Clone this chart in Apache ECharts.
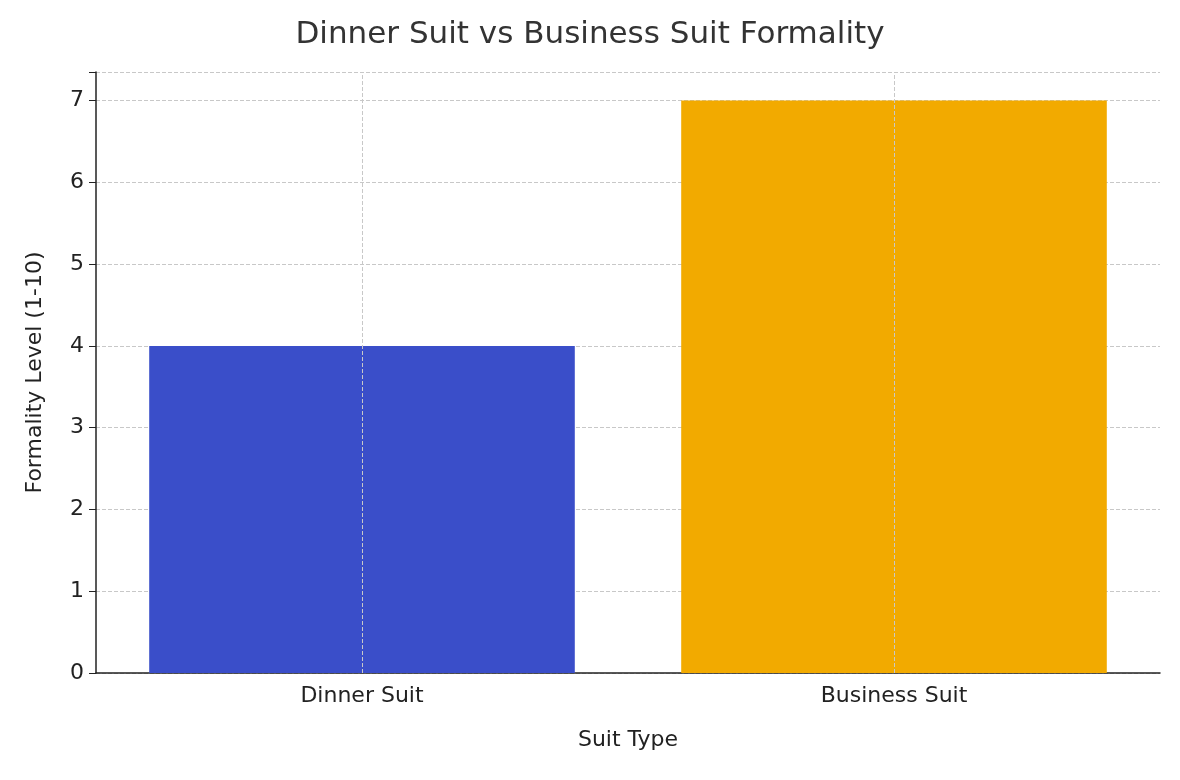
<!DOCTYPE html>
<html><head><meta charset="utf-8">
<script src="https://cdn.jsdelivr.net/npm/echarts@6/dist/echarts.min.js"></script>
<style>html,body{margin:0;padding:0;background:#fff}#c{width:1180px;height:780px}</style>
</head><body><div id="c"></div>
<script>
const categories = ['Dinner Suit', 'Business Suit'];
const values = [4, 7];
const colors = ['#3a4ec9', '#f2aa00'];
const yTicks = [0,1,2,3,4,5,6,7];
const F = 'DejaVu Sans';
const chart = echarts.init(document.getElementById('c'));
chart.setOption({
  animation: false,
  title: {text: 'Dinner Suit vs Business Suit Formality', left: 'center', top: 14,
    textStyle: {fontFamily: F, fontSize: 31, fontWeight: 'normal', color: '#333'}},
  grid: {left: 96, right: 20, top: 72, bottom: 107},
  xAxis: {type: 'category', data: categories, name: 'Suit Type', nameLocation: 'middle', nameGap: 56,
    nameTextStyle: {fontFamily: F, fontSize: 22, color: '#222'},
    axisLine: {lineStyle: {color: '#222', width: 1.5}},
    axisTick: {alignWithLabel: true, length: 7, lineStyle: {color: '#222'}},
    axisLabel: {fontFamily: F, fontSize: 22, color: '#222', margin: 12},
    splitLine: {show: false}},
  yAxis: {type: 'value', min: 0, max: 7.35, interval: 1, name: 'Formality Level (1-10)',
    nameLocation: 'middle', nameGap: 50,
    nameTextStyle: {fontFamily: F, fontSize: 22, color: '#222'},
    axisLine: {show: true, lineStyle: {color: '#222', width: 1.5}},
    axisTick: {show: true, length: 7, lineStyle: {color: '#222'}},
    axisLabel: {fontFamily: F, fontSize: 22, color: '#222', margin: 12,
      formatter: v => yTicks.includes(v) ? String(v) : ''},
    splitLine: {lineStyle: {type: 'dashed', color: '#c8c8c8'}}},
  series: [{type: 'bar', barWidth: '80%',
    data: values.map((v, i) => ({value: v, itemStyle: {color: colors[i]}})),
    markLine: {silent: true, symbol: 'none', label: {show: false},
      lineStyle: {type: 'dashed', color: '#c8c8c8', width: 1},
      data: categories.map(c => ({xAxis: c}))}}]
});
</script></body></html>
